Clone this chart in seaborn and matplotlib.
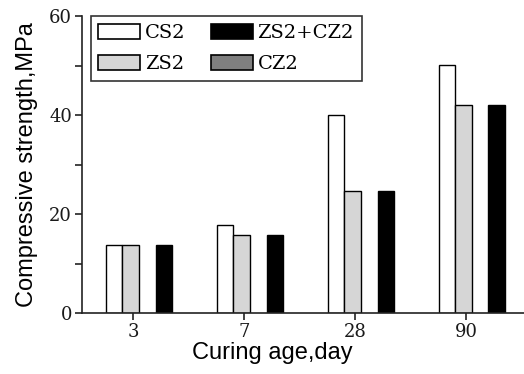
import seaborn as sns
import matplotlib.pyplot as plt
import matplotlib.patches as mpatches
import pandas as pd
import numpy as np

ages = ['3', '7', '28', '90']
cs2 = [13.7, 17.7, 40.0, 50.1]
zs2 = [13.7, 15.8, 24.6, 42.0]
cz2 = [np.nan, np.nan, np.nan, np.nan]   # no bars drawn for CZ2
zs2_cz2 = [13.8, 15.8, 24.6, 42.0]

series = ['CS2', 'ZS2', 'CZ2', 'ZS2+CZ2']
colors = {'CS2': 'white', 'ZS2': '#d6d6d6', 'CZ2': '#7f7f7f', 'ZS2+CZ2': 'black'}

df = pd.DataFrame({
    'age': ages * 4,
    'mix': [s for s in series for _ in ages],
    'strength': cs2 + zs2 + cz2 + zs2_cz2,
})

sns.set_style('ticks')
fig = plt.figure(figsize=(5.24, 3.74), dpi=100)
ax = fig.add_axes([0.156, 0.163, 0.844, 0.794])

sns.barplot(data=df, x='age', y='strength', hue='mix',
            order=ages, hue_order=series, palette=colors,
            width=0.6, gap=0, edgecolor='black', linewidth=1,
            legend=False, ax=ax)

ax.spines['top'].set_visible(False)
ax.spines['right'].set_visible(False)
for sp in ['left', 'bottom']:
    ax.spines[sp].set_linewidth(1.2)
    ax.spines[sp].set_color('#222222')

ax.set_xlim(-0.515, 3.47)
ax.set_ylim(0, 60)
ax.set_yticks([0, 20, 40, 60])
ax.set_yticks([10, 30, 50], minor=True)
ax.set_xticks(np.arange(len(ages)) - 0.05, ages)
ax.tick_params(axis='both', which='both', direction='out', length=5,
               width=1.2, color='#222222', labelsize=13, pad=2)
for lab in ax.get_xticklabels() + ax.get_yticklabels():
    lab.set_family('DejaVu Serif')
    lab.set_color('#1a1a1a')

ax.set_xlabel('Curing age,day', fontsize=17, family='Liberation Sans',
              labelpad=1, color='black')
ax.xaxis.label.set_x(0.432)
ax.set_ylabel('Compressive strength,MPa', fontsize=17, family='Liberation Sans',
              labelpad=8, color='black')

handles = [mpatches.Patch(facecolor=colors[s], edgecolor='black', linewidth=1.2, label=s)
           for s in ['CS2', 'ZS2', 'ZS2+CZ2', 'CZ2']]
leg = ax.legend(handles=handles, ncol=2, loc='upper left', bbox_to_anchor=(0.02, 1.0),
                frameon=True, fancybox=False, edgecolor='black',
                prop={'family': 'DejaVu Serif', 'size': 14},
                handlelength=2.15, handleheight=0.8, handletextpad=0.25,
                columnspacing=1.3, labelspacing=0.65, borderpad=0.4,
                borderaxespad=0)
leg.get_frame().set_linewidth(1.2)
for t in leg.get_texts():
    t.set_color('black')

plt.savefig('out.png', dpi=100)
